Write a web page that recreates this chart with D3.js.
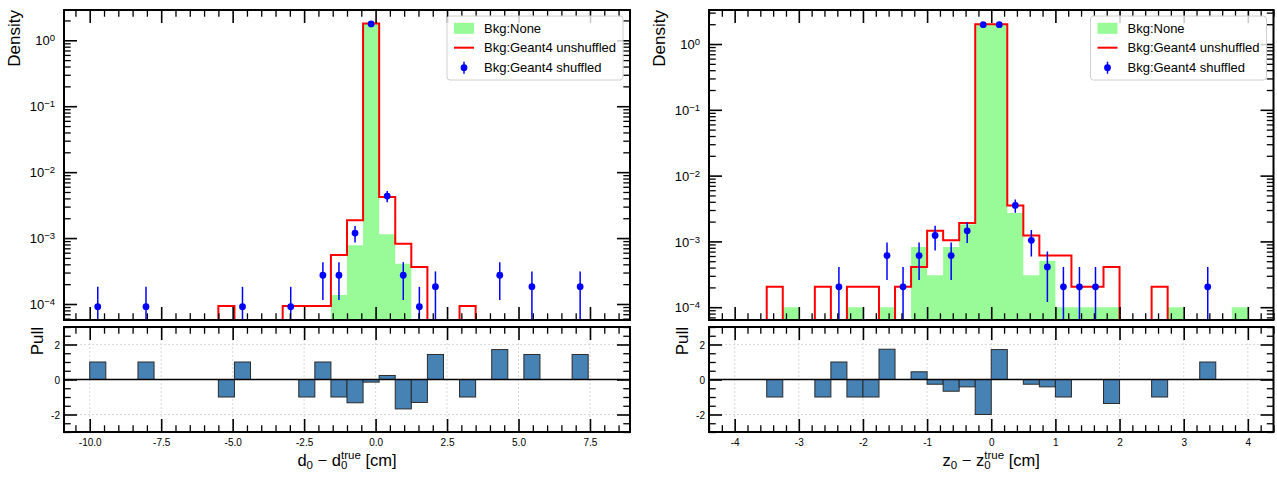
<!DOCTYPE html>
<html>
<head>
<meta charset="utf-8">
<script src="https://cdn.jsdelivr.net/npm/d3@7"></script>
<style>
  body { margin: 0; background: #fff; }
  svg { display: block; }
  text { font-family: "Liberation Sans", Arial, Helvetica, sans-serif; fill: #000; }
</style>
</head>
<body>
<svg id="chart" width="1277" height="477"></svg>
<script>
// ---------------- d0 residual histograms ----------------
const d0Edges = [-10, -9.4375, -8.875, -8.3125, -7.75, -7.1875, -6.625, -6.0625, -5.5, -4.9375,
  -4.375, -3.8125, -3.25, -2.6875, -2.125, -1.5625, -1, -0.4375, 0.125, 0.6875,
  1.25, 1.8125, 2.375, 2.9375, 3.5, 4.0625, 4.625, 5.1875, 5.75, 6.3125,
  6.875, 7.4375, 8];
const d0None = [0, 0, 0, 0, 0, 0, 0, 0, 0, 0,
  0, 0, 0, 0, 0, 1.37e-4, 7.75e-4, 1.76, 1.14e-3, 4.08e-4,
  0, 0, 0, 0, 0, 0, 0, 0, 0, 0,
  0, 0];
const d0Unshuffled = [0, 0, 0, 0, 0, 0, 0, 0, 0.93e-4, 0,
  0, 0, 0.93e-4, 0.93e-4, 0.93e-4, 5.55e-4, 1.87e-3, 1.79, 4.19e-3, 8.2e-4,
  3.64e-4, 0, 0, 0.93e-4, 0, 0, 0, 0, 0, 0,
  0, 0];
const d0Shuffled = [0.91e-4, 0, 0, 0.91e-4, 0, 0, 0, 0, 0, 0.91e-4,
  0, 0, 0.91e-4, 0, 2.73e-4, 2.73e-4, 1.19e-3, 1.77, 4.33e-3, 2.73e-4,
  0.91e-4, 1.83e-4, 0, 0, 0, 2.73e-4, 0, 1.83e-4, 0, 0,
  1.83e-4, 0];
const d0ShuffledErr = [0.91e-4, 0, 0, 0.91e-4, 0, 0, 0, 0, 0, 0.91e-4,
  0, 0, 0.91e-4, 0, 1.58e-4, 1.58e-4, 0.33e-3, 0.013, 0.85e-3, 1.58e-4,
  0.91e-4, 1.29e-4, 0, 0, 0, 1.58e-4, 0, 1.29e-4, 0, 0,
  1.29e-4, 0];
const d0Pull = [1, 0, 0, 1, 0, 0, 0, 0, -1, 1,
  0, 0, 0, -1, 1, -1, -1.33, -0.15, 0.23, -1.68,
  -1.31, 1.43, 0, -1, 0, 1.71, 0, 1.43, 0, 0,
  1.43, 0];
const d0Ticks = [-10, -7.5, -5, -2.5, 0, 2.5, 5, 7.5];
const d0TickLabels = ["-10.0", "-7.5", "-5.0", "-2.5", "0.0", "2.5", "5.0", "7.5"];

// ---------------- z0 residual histograms ----------------
const z0Edges = [-4, -3.75, -3.5, -3.25, -3, -2.75, -2.5, -2.25, -2, -1.75,
  -1.5, -1.25, -1, -0.75, -0.5, -0.25, 0, 0.25, 0.5, 0.75,
  1, 1.25, 1.5, 1.75, 2, 2.25, 2.5, 2.75, 3, 3.25,
  3.5, 3.75, 4];
const z0None = [0, 0, 0, 1.0e-4, 0, 0, 0, 1.0e-4, 0, 1.0e-4,
  0, 8.2e-4, 3.06e-4, 8.2e-4, 1.8e-3, 1.95, 1.95, 2.7e-3, 3.06e-4, 5.1e-4,
  1.0e-4, 1.0e-4, 1.0e-4, 1.0e-4, 0, 0, 0, 1.0e-4, 0, 0,
  0, 1.0e-4];
const z0Unshuffled = [0, 0, 2.04e-4, 0, 0, 2.04e-4, 0, 2.04e-4, 2.04e-4, 0,
  2.04e-4, 4.1e-4, 1.45e-3, 1.04e-3, 1.9e-3, 2.0, 2.0, 3.52e-3, 1.23e-3, 6.1e-4,
  6.1e-4, 2.04e-4, 2.04e-4, 4.1e-4, 0, 0, 2.04e-4, 0, 0, 0,
  0, 0];
const z0Shuffled = [0, 0, 0, 0, 0, 0, 2.04e-4, 0, 0, 6.1e-4,
  2.04e-4, 6.1e-4, 1.23e-3, 6.1e-4, 1.45e-3, 1.97, 1.97, 3.52e-3, 1.04e-3, 4.1e-4,
  2.04e-4, 2.04e-4, 2.04e-4, 0, 0, 0, 0, 0, 0, 2.04e-4,
  0, 0];
const z0ShuffledErr = [0, 0, 0, 0, 0, 0, 2.04e-4, 0, 0, 3.5e-4,
  2.04e-4, 3.5e-4, 0.5e-3, 3.5e-4, 0.5e-3, 0.02, 0.02, 0.8e-3, 0.45e-3, 2.9e-4,
  2.04e-4, 2.04e-4, 2.04e-4, 0, 0, 0, 0, 0, 0, 2.04e-4,
  0, 0];
const z0Pull = [0, 0, -1, 0, 0, -1, 1, -1, -1, 1.73,
  0, 0.44, -0.27, -0.67, -0.42, -2.0, 1.71, 0, -0.27, -0.42,
  -1, 0, 0, -1.37, 0, 0, -1, 0, 0, 1,
  0, 0];
const z0Ticks = [-4, -3, -2, -1, 0, 1, 2, 3, 4];
const z0TickLabels = ["-4", "-3", "-2", "-1", "0", "1", "2", "3", "4"];

// ---------------- shared axis text ----------------
const densityTicks = [1, 1e-1, 1e-2, 1e-3, 1e-4];
const densityExponents = ["0", "\u22121", "\u22122", "\u22123", "\u22124"];
const pullTicks = [-2, 0, 2];
const pullTickLabels = ["-2", "0", "2"];
const legendLabels = ["Bkg:None", "Bkg:Geant4 unshuffled", "Bkg:Geant4 shuffled"];

// ---------------- layout & style ----------------
const TOP = { y0: 10, y1: 320 };
const PULL = { y0: 327, y1: 432 };
const GREEN = "#98fb98", RED = "#ff0000", BLUE = "#0000ff", PULLFILL = "#4682b4";
const MAJ = 13, MIN = 6.7;

const svg = d3.select("#chart");
const defs = svg.append("defs");

const panels = [
  { id: "d0", edges: d0Edges, none: d0None, unsh: d0Unshuffled, sh: d0Shuffled, err: d0ShuffledErr, pull: d0Pull,
    xDomain: [-10.9, 8.9], x0: 64, x1: 630, yDomain: [5.72e-5, 2.88],
    ticks: d0Ticks, tickLabels: d0TickLabels, minorStep: 0.5, sym: "d" },
  { id: "z0", edges: z0Edges, none: z0None, unsh: z0Unshuffled, sh: z0Shuffled, err: z0ShuffledErr, pull: z0Pull,
    xDomain: [-4.4, 4.4], x0: 709, x1: 1273.5, yDomain: [6.39e-5, 3.29],
    ticks: z0Ticks, tickLabels: z0TickLabels, minorStep: 0.2, sym: "z" }
];

function minorValues(domain, step, majors) {
  const out = [];
  const start = Math.ceil(domain[0] / step - 1e-9);
  const end = Math.floor(domain[1] / step + 1e-9);
  for (let k = start; k <= end; k++) {
    const v = +(k * step).toFixed(6);
    if (!majors.some(m => Math.abs(m - v) < 1e-6)) out.push(v);
  }
  return out;
}

function logMinorValues(domain) {
  const out = [];
  for (let e = -6; e <= 1; e++) {
    for (let k = 2; k <= 9; k++) {
      const v = k * Math.pow(10, e);
      if (v >= domain[0] && v <= domain[1]) out.push(v);
    }
  }
  return out;
}

function tickAxis(parent, axisFn, scale, values, size, transform, width) {
  const a = axisFn(scale).tickValues(values).tickSize(-size).tickFormat("");
  const gg = parent.append("g").attr("transform", transform).call(a);
  gg.select(".domain").remove();
  gg.selectAll("text").remove();
  gg.selectAll("line").attr("stroke", "#000").attr("stroke-width", width);
  return gg;
}

function stepPoints(x, yv, edges, values, below) {
  const pts = [[x(edges[0]), below]];
  values.forEach((v, i) => {
    const yy = v > 0 ? yv(v) : below;
    pts.push([x(edges[i]), yy]);
    pts.push([x(edges[i + 1]), yy]);
  });
  pts.push([x(edges[edges.length - 1]), below]);
  return pts;
}

// axis title with sub/superscripts, laid out piece by piece
function mathTitle(parent, pieces, cx, baseline) {
  const g = parent.append("g");
  let cursor = 0;
  pieces.forEach(p => {
    if (p.stack) {
      const w = [];
      p.stack.forEach(s => {
        const t = g.append("text").attr("x", cursor).attr("y", s.dy)
          .style("font-size", s.size + "px").text(s.t);
        w.push(t.node().getComputedTextLength());
      });
      cursor += Math.max(...w);
    } else {
      const t = g.append("text").attr("x", cursor).attr("y", p.dy || 0)
        .style("font-size", p.size + "px").attr("xml:space", "preserve").text(p.t);
      cursor += t.node().getComputedTextLength();
    }
  });
  g.attr("transform", `translate(${cx - cursor / 2},${baseline})`);
}

panels.forEach(cfg => {
  const x = d3.scaleLinear().domain(cfg.xDomain).range([cfg.x0, cfg.x1]);
  const y = d3.scaleLog().domain(cfg.yDomain).range([TOP.y1, TOP.y0]);
  const yp = d3.scaleLinear().domain([-3, 3]).range([PULL.y1, PULL.y0]);
  const g = svg.append("g");
  const below = TOP.y1 + 20;

  defs.append("clipPath").attr("id", "clip-top-" + cfg.id)
    .append("rect").attr("x", cfg.x0).attr("y", TOP.y0)
    .attr("width", cfg.x1 - cfg.x0).attr("height", TOP.y1 - TOP.y0);
  defs.append("clipPath").attr("id", "clip-pull-" + cfg.id)
    .append("rect").attr("x", cfg.x0).attr("y", PULL.y0)
    .attr("width", cfg.x1 - cfg.x0).attr("height", PULL.y1 - PULL.y0);

  // ---- main density panel ----
  const plot = g.append("g").attr("clip-path", `url(#clip-top-${cfg.id})`);
  const line = d3.line();

  // Bkg:None, filled histogram
  plot.append("path")
    .attr("d", line(stepPoints(x, y, cfg.edges, cfg.none, below)) + "Z")
    .attr("fill", GREEN).attr("stroke", "none");

  // Bkg:Geant4 unshuffled, step outline
  plot.append("path")
    .attr("d", line(stepPoints(x, y, cfg.edges, cfg.unsh, below)))
    .attr("fill", "none").attr("stroke", RED).attr("stroke-width", 2)
    .attr("stroke-linejoin", "miter");

  // Bkg:Geant4 shuffled, points with error bars
  const pts = cfg.sh.map((v, i) => ({ v, e: cfg.err[i], c: (cfg.edges[i] + cfg.edges[i + 1]) / 2 }))
    .filter(d => d.v > 0);
  plot.selectAll("line.err").data(pts).join("line")
    .attr("x1", d => x(d.c)).attr("x2", d => x(d.c))
    .attr("y1", d => y(d.v + d.e))
    .attr("y2", d => (d.v - d.e) > cfg.yDomain[0] ? y(d.v - d.e) : below)
    .attr("stroke", BLUE).attr("stroke-width", 1.5);
  plot.selectAll("circle.pt").data(pts).join("circle")
    .attr("cx", d => x(d.c)).attr("cy", d => y(d.v)).attr("r", 3.4)
    .attr("fill", BLUE);

  // ticks (inward, all four sides)
  const xMinor = minorValues(cfg.xDomain, cfg.minorStep, cfg.ticks);
  const yMinor = logMinorValues(cfg.yDomain);
  tickAxis(g, d3.axisBottom, x, cfg.ticks, MAJ, `translate(0,${TOP.y1})`, 1.6);
  tickAxis(g, d3.axisBottom, x, xMinor, MIN, `translate(0,${TOP.y1})`, 1.3);
  tickAxis(g, d3.axisTop, x, cfg.ticks, MAJ, `translate(0,${TOP.y0})`, 1.6);
  tickAxis(g, d3.axisTop, x, xMinor, MIN, `translate(0,${TOP.y0})`, 1.3);
  tickAxis(g, d3.axisLeft, y, densityTicks, MAJ, `translate(${cfg.x0},0)`, 1.6);
  tickAxis(g, d3.axisLeft, y, yMinor, MIN, `translate(${cfg.x0},0)`, 1.3);
  tickAxis(g, d3.axisRight, y, densityTicks, MAJ, `translate(${cfg.x1},0)`, 1.6);
  tickAxis(g, d3.axisRight, y, yMinor, MIN, `translate(${cfg.x1},0)`, 1.3);

  // density tick labels 10^n
  const yl = g.append("g").attr("transform", `translate(${cfg.x0},0)`)
    .call(d3.axisLeft(y).tickValues(densityTicks).tickSize(0).tickPadding(9).tickFormat(""));
  yl.select(".domain").remove();
  yl.selectAll("text").each(function (d, i) {
    const t = d3.select(this).attr("dy", "0.36em").style("font-size", "13px").attr("fill", "#000");
    t.append("tspan").text("10");
    t.append("tspan").attr("dy", "-0.42em").style("font-size", "9.5px").text(densityExponents[i]);
  });

  // frame
  g.append("rect").attr("x", cfg.x0).attr("y", TOP.y0)
    .attr("width", cfg.x1 - cfg.x0).attr("height", TOP.y1 - TOP.y0)
    .attr("fill", "none").attr("stroke", "#000").attr("stroke-width", 2);

  // y title
  g.append("text").attr("transform", `translate(${cfg.x0 - 44},${TOP.y0}) rotate(-90)`)
    .attr("text-anchor", "end").style("font-size", "17px").text("Density");

  // legend
  const lw = 176, lh = 64;
  const lx = cfg.x1 - 7 - lw, ly = TOP.y0 + 6;
  const leg = g.append("g").attr("transform", `translate(${lx},${ly})`);
  leg.append("rect").attr("width", lw).attr("height", lh).attr("rx", 3)
    .attr("fill", "#fff").attr("fill-opacity", 0.8).attr("stroke", "#d0d0d0").attr("stroke-width", 1);
  const rows = [12.3, 31.7, 51.7];
  leg.append("rect").attr("x", 7).attr("y", rows[0] - 5.5).attr("width", 20).attr("height", 11).attr("fill", GREEN);
  leg.append("line").attr("x1", 7).attr("x2", 27).attr("y1", rows[1]).attr("y2", rows[1])
    .attr("stroke", RED).attr("stroke-width", 2);
  leg.append("line").attr("x1", 17).attr("x2", 17).attr("y1", rows[2] - 6).attr("y2", rows[2] + 6)
    .attr("stroke", BLUE).attr("stroke-width", 1.5);
  leg.append("circle").attr("cx", 17).attr("cy", rows[2]).attr("r", 3.4).attr("fill", BLUE);
  leg.selectAll("text.lab").data(legendLabels).join("text")
    .attr("x", 37).attr("y", (d, i) => rows[i]).attr("dy", "0.35em")
    .style("font-size", "13px").attr("fill", "#222").text(d => d);

  // ---- pull panel ----
  g.append("g").selectAll("line.gx").data(cfg.ticks).join("line")
    .attr("x1", d => x(d)).attr("x2", d => x(d)).attr("y1", PULL.y0).attr("y2", PULL.y1)
    .attr("stroke", "#cfcfcf").attr("stroke-width", 0.8).attr("stroke-dasharray", "2,2");
  g.append("g").selectAll("line.gy").data(pullTicks).join("line")
    .attr("x1", cfg.x0).attr("x2", cfg.x1).attr("y1", d => yp(d)).attr("y2", d => yp(d))
    .attr("stroke", "#cfcfcf").attr("stroke-width", 0.8).attr("stroke-dasharray", "2,2");

  const pb = cfg.pull.map((v, i) => ({ v, a: cfg.edges[i], b: cfg.edges[i + 1] })).filter(d => d.v !== 0);
  g.append("g").attr("clip-path", `url(#clip-pull-${cfg.id})`)
    .selectAll("rect").data(pb).join("rect")
    .attr("x", d => x(d.a)).attr("width", d => x(d.b) - x(d.a))
    .attr("y", d => yp(Math.max(0, d.v))).attr("height", d => Math.abs(yp(d.v) - yp(0)))
    .attr("fill", PULLFILL).attr("stroke", "#2a2a2a").attr("stroke-width", 1);

  g.append("line").attr("x1", cfg.x0).attr("x2", cfg.x1).attr("y1", yp(0)).attr("y2", yp(0))
    .attr("stroke", "#000").attr("stroke-width", 1.4);

  const pMinor = minorValues([-3, 3], 0.5, pullTicks);
  tickAxis(g, d3.axisBottom, x, cfg.ticks, MAJ, `translate(0,${PULL.y1})`, 1.6);
  tickAxis(g, d3.axisBottom, x, xMinor, MIN, `translate(0,${PULL.y1})`, 1.3);
  tickAxis(g, d3.axisTop, x, cfg.ticks, MAJ, `translate(0,${PULL.y0})`, 1.6);
  tickAxis(g, d3.axisTop, x, xMinor, MIN, `translate(0,${PULL.y0})`, 1.3);
  tickAxis(g, d3.axisLeft, yp, pullTicks, MAJ, `translate(${cfg.x0},0)`, 1.6);
  tickAxis(g, d3.axisLeft, yp, pMinor, MIN, `translate(${cfg.x0},0)`, 1.3);
  tickAxis(g, d3.axisRight, yp, pullTicks, MAJ, `translate(${cfg.x1},0)`, 1.6);
  tickAxis(g, d3.axisRight, yp, pMinor, MIN, `translate(${cfg.x1},0)`, 1.3);

  g.append("rect").attr("x", cfg.x0).attr("y", PULL.y0)
    .attr("width", cfg.x1 - cfg.x0).attr("height", PULL.y1 - PULL.y0)
    .attr("fill", "none").attr("stroke", "#000").attr("stroke-width", 2);

  // pull tick labels
  const pl = g.append("g").attr("transform", `translate(${cfg.x0},0)`)
    .call(d3.axisLeft(yp).tickValues(pullTicks).tickSize(0).tickPadding(4)
      .tickFormat((d, i) => pullTickLabels[i]));
  pl.select(".domain").remove();
  pl.selectAll("text").style("font-size", "10px").attr("fill", "#000").attr("dy", "0.36em");

  // x tick labels
  const xl = g.append("g").attr("transform", `translate(0,${PULL.y1})`)
    .call(d3.axisBottom(x).tickValues(cfg.ticks).tickSize(0).tickPadding(0)
      .tickFormat((d, i) => cfg.tickLabels[i]));
  xl.select(".domain").remove();
  xl.selectAll("text").style("font-size", "10px").attr("fill", "#000").attr("y", 14).attr("dy", 0);

  // pull title
  g.append("text").attr("transform", `translate(${cfg.x0 - 21},${PULL.y0}) rotate(-90)`)
    .attr("text-anchor", "end").style("font-size", "17px").text("Pull");

  // x title: s_0 − s_0^true [cm]
  const s = cfg.sym;
  mathTitle(g, [
    { t: s, size: 16.5 },
    { t: "0", size: 11.5, dy: 3 },
    { t: " \u2212 " + s, size: 16.5 },
    { stack: [{ t: "0", size: 11.5, dy: 3 }, { t: "true", size: 11.5, dy: -7 }] },
    { t: " [cm]", size: 16.5 }
  ], (cfg.x0 + cfg.x1) / 2, 466);
});
</script>
</body>
</html>
